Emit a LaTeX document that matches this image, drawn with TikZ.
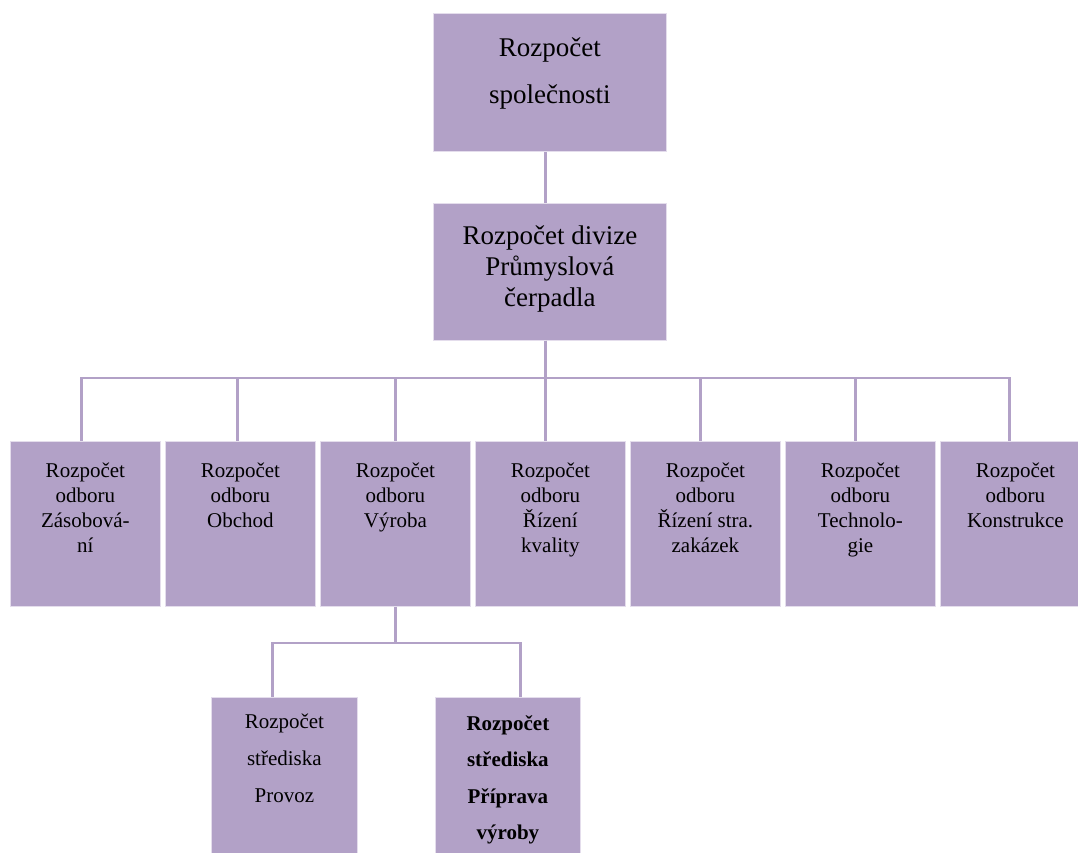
\documentclass[tikz,border=0pt]{standalone}
\usepackage{fontspec}
\setmainfont{Liberation Serif}
\definecolor{boxfill}{HTML}{B2A1C7}
\definecolor{boxedge}{HTML}{E4DDEC}
\definecolor{linecol}{HTML}{B2A1C7}
\begin{document}
\begin{tikzpicture}[x=1pt,y=-1pt,
  box/.style={draw=boxedge, line width=0.8pt, fill=boxfill, anchor=north west, inner sep=0pt},
  bigbox/.style={box, minimum width=233pt, minimum height=138pt},
  midbox/.style={box, minimum width=150pt, minimum height=165pt},
  txt/.style={anchor=north, inner sep=0pt, align=center, text=black},
  bigtxt/.style={txt, font=\fontsize{27}{47}\selectfont},
  midtxt/.style={txt, font=\fontsize{21}{25}\selectfont},
  lowtxt/.style={txt, font=\fontsize{21}{37}\selectfont},
  conn/.style={draw=linecol, line width=2.4pt}]
\useasboundingbox (0,0) rectangle (1078,852);
\fill[white] (0,0) rectangle (1078,852);
% coordinates of the bus lines
\coordinate (bus) at (0,378);
\coordinate (sub) at (0,643);
% top boxes
\node[bigbox] (top) at (433,13) {};
\node[bigbox, minimum height=137pt] (div) at (433,203) {};
\node[bigtxt] (toptxt) at ([yshift=-25pt]top.north) {Rozpočet\\společnosti};
\node[txt, font=\fontsize{27}{31}\selectfont] (divtxt) at ([yshift=-23pt]div.north) {Rozpočet divize\\Průmyslová\\čerpadla};
% middle boxes
\node[midbox] (m1) at (10,441) {};
\node[midbox] (m2) at (165,441) {};
\node[midbox] (m3) at (320,441) {};
\node[midbox] (m4) at (475,441) {};
\node[midbox] (m5) at (630,441) {};
\node[midbox] (m6) at (785,441) {};
\node[midbox] (m7) at (940,441) {};
\node[midtxt] (m1t) at ([yshift=-21.5pt]m1.north) {Rozpočet\\odboru\\Zásobová-\\ní};
\node[midtxt] (m2t) at ([yshift=-21.5pt]m2.north) {Rozpočet\\odboru\\Obchod};
\node[midtxt] (m3t) at ([yshift=-21.5pt]m3.north) {Rozpočet\\odboru\\Výroba};
\node[midtxt] (m4t) at ([yshift=-21.5pt]m4.north) {Rozpočet\\odboru\\Řízení\\kvality};
\node[midtxt] (m5t) at ([yshift=-21.5pt]m5.north) {Rozpočet\\odboru\\Řízení stra.\\zakázek};
\node[midtxt] (m6t) at ([yshift=-21.5pt]m6.north) {Rozpočet\\odboru\\Technolo-\\gie};
\node[midtxt] (m7t) at ([yshift=-21.5pt]m7.north) {Rozpočet\\odboru\\Konstrukce};
% bottom boxes
\node[box, minimum width=146pt, minimum height=175pt] (p1) at (211,697) {};
\node[box, minimum width=145pt, minimum height=175pt] (p2) at (435,697) {};
\node[lowtxt] (p1t) at ([yshift=-16.5pt]p1.north) {Rozpočet\\střediska\\Provoz};
\node[txt, font=\fontsize{21}{36.5}\selectfont\bfseries] (p2t) at ([yshift=-18pt]p2.north) {Rozpočet\\střediska\\Příprava\\výroby};
% connectors
\draw[conn] ([xshift=-4.5pt]top.south) -- ([xshift=-4.5pt]div.north);
\draw[conn] ([xshift=-4.5pt]div.south) -- ([xshift=-4.5pt]div.south |- bus) -| ([xshift=-4pt]m1.north);
\draw[conn] ([xshift=-4.5pt]div.south) -- ([xshift=-4.5pt]div.south |- bus) -| ([xshift=-3pt]m2.north);
\draw[conn] ([xshift=-4.5pt]div.south) -- ([xshift=-4.5pt]div.south |- bus) -| (m3.north);
\draw[conn] ([xshift=-4.5pt]div.south) -- ([xshift=-4.5pt]div.south |- bus) -| ([xshift=-5pt]m4.north);
\draw[conn] ([xshift=-4.5pt]div.south) -- ([xshift=-4.5pt]div.south |- bus) -| ([xshift=-5pt]m5.north);
\draw[conn] ([xshift=-4.5pt]div.south) -- ([xshift=-4.5pt]div.south |- bus) -| ([xshift=-5pt]m6.north);
\draw[conn] ([xshift=-4.5pt]div.south) -- ([xshift=-4.5pt]div.south |- bus) -| ([xshift=-6pt]m7.north);
\draw[conn] (m3.south) -- (m3.south |- sub) -| ([xshift=-12pt]p1.north);
\draw[conn] (m3.south) -- (m3.south |- sub) -| ([xshift=12.5pt]p2.north);
\end{tikzpicture}
\end{document}
